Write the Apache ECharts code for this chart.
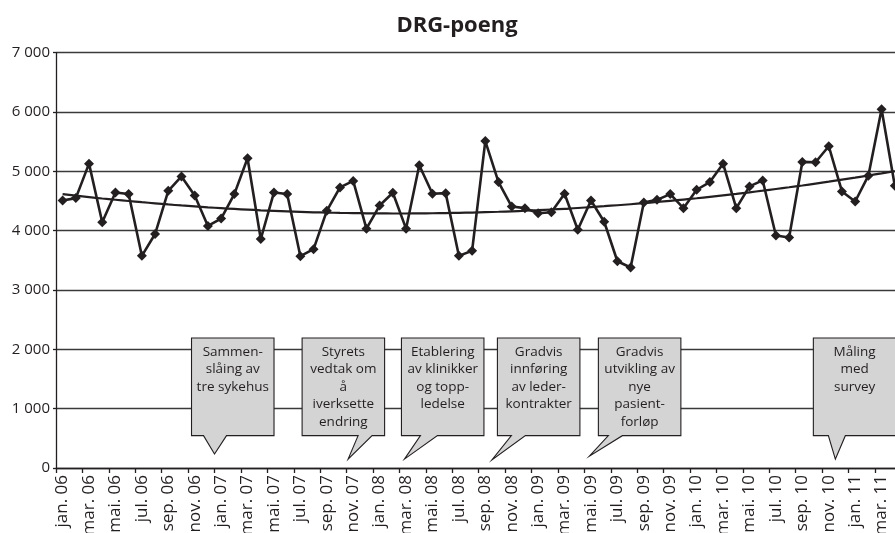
<!DOCTYPE html>
<html>
<head>
<meta charset="utf-8">
<script src="https://cdn.jsdelivr.net/npm/echarts@6/dist/echarts.min.js"></script>
<style>
  html, body { margin: 0; padding: 0; background: #fff; overflow: hidden; width: 895px; height: 533px; }
  #chart { width: 902px; height: 533px; }
</style>
</head>
<body>
<div id="chart"></div>
<script>
// Month labels (Norwegian) and years covered by the series
const monthNames = ['jan', 'feb', 'mar', 'apr', 'mai', 'jun', 'jul', 'aug', 'sep', 'okt', 'nov', 'des'];
const years = ['06', '07', '08', '09', '10', '11'];
const monthCount = 64; // jan. 06 – apr. 11

// Monthly DRG points
const drgValues = [
  4509, 4549, 5130, 4142, 4644, 4617, 3576, 3944, 4673, 4915,
  4593, 4080, 4205, 4617, 5220, 3859, 4644, 4617, 3570, 3688,
  4334, 4729, 4839, 4034, 4424, 4640, 4034, 5102, 4622, 4633,
  3576, 3661, 5510, 4820, 4407, 4380, 4295, 4312, 4622, 4017,
  4509, 4151, 3485, 3380, 4475, 4520, 4617, 4380, 4690, 4820,
  5130, 4380, 4746, 4847, 3920, 3886, 5159, 5153, 5424, 4661,
  4492, 4927, 6046, 4758
];

// Polynomial trend line
const trendValues = [
  4615, 4590, 4566, 4543, 4521, 4500, 4480, 4461, 4442, 4425,
  4410, 4394, 4380, 4367, 4355, 4344, 4334, 4325, 4317, 4310,
  4305, 4300, 4296, 4293, 4291, 4290, 4290, 4291, 4294, 4297,
  4301, 4306, 4312, 4319, 4327, 4336, 4346, 4357, 4369, 4382,
  4398, 4413, 4429, 4446, 4464, 4484, 4504, 4525, 4547, 4571,
  4595, 4620, 4647, 4674, 4703, 4732, 4762, 4794, 4826, 4860,
  4894, 4930, 4966, 5003
];

// Y axis ticks
const yTicks = [0, 1000, 2000, 3000, 4000, 5000, 6000, 7000];

// Events marked with callouts (month of the event and label lines)
const eventMonths = ['jan. 07', 'nov. 07', 'mar. 08', 'okt. 08', 'mai. 09', 'des. 10'];
const eventTexts = [
  ['Sammen-', 'slåing av', 'tre sykehus'],
  ['Styrets', 'vedtak om', 'å', 'iverksette', 'endring'],
  ['Etablering', 'av klinikker', 'og topp-', 'ledelse'],
  ['Gradvis', 'innføring', 'av leder-', 'kontrakter'],
  ['Gradvis', 'utvikling av', 'nye', 'pasient-', 'forløp'],
  ['Måling', 'med', 'survey']
];

const categories = [];
for (let i = 0; i < monthCount; i++) {
  categories.push(monthNames[i % 12] + '. ' + years[Math.floor(i / 12)]);
}

const INK = '#231f20';
const FONT = '"Open Sans", "Noto Sans", sans-serif';

const chart = echarts.init(document.getElementById('chart'), null, { renderer: 'canvas' });

chart.setOption({
  animation: false,
  backgroundColor: '#fff',
  grid: {
    left: 56, top: 52.7, right: 0.6, bottom: 65,
    containLabel: false, outerBoundsMode: 'none'
  },
  xAxis: {
    type: 'category',
    data: categories,
    boundaryGap: true,
    axisLine: { lineStyle: { color: INK, width: 1.3 } },
    axisTick: { show: true, interval: 1, length: 5, lineStyle: { color: INK, width: 1.3 } },
    axisLabel: {
      interval: 1, rotate: 90, margin: 7,
      fontFamily: FONT, fontSize: 17, color: INK
    },
    splitLine: { show: false }
  },
  yAxis: {
    type: 'value',
    min: yTicks[0],
    max: yTicks[yTicks.length - 1],
    interval: 1000,
    axisLine: { show: true, lineStyle: { color: INK, width: 1.3 } },
    axisTick: { show: true, length: 3, lineStyle: { color: INK, width: 1.3 } },
    axisLabel: {
      margin: 6, fontFamily: FONT, fontSize: 15, color: INK,
      formatter: v => String(v).replace(/\B(?=(\d{3})+(?!\d))/g, ' ')
    },
    splitLine: { show: true, lineStyle: { color: '#3a3a3a', width: 1.3 } }
  },
  series: [
    {
      name: 'DRG-poeng',
      type: 'line',
      data: drgValues,
      symbol: 'diamond',
      symbolSize: 10,
      showSymbol: true,
      showAllSymbol: true,
      itemStyle: { color: INK },
      lineStyle: { color: INK, width: 2.6 },
      z: 3
    },
    {
      name: 'Trend',
      type: 'line',
      data: trendValues,
      symbol: 'none',
      smooth: true,
      lineStyle: { color: INK, width: 2.2 },
      z: 2
    }
  ]
});

// Callout geometry, in pixels relative to the tip of each pointer
const calloutLayout = [
  { tipDx: 0,   tipValue: 235, boxDx: -23, base: [-11, 12] },
  { tipDx: 1.5, tipValue: 150, boxDx: -46, base: [10, 24] },
  { tipDx: 5,   tipValue: 150, boxDx: -3,  base: [16, 33] },
  { tipDx: 0,   tipValue: 135, boxDx: 5.5, base: [19.5, 33.5] },
  { tipDx: 5,   tipValue: 200, boxDx: 9,   base: [19, 33] },
  { tipDx: 0,   tipValue: 150, boxDx: -22, base: [-7, 10] }
];
const BOX_W = 82.5;
const boxTop = chart.convertToPixel({ yAxisIndex: 0 }, 2190);
const boxBottom = chart.convertToPixel({ yAxisIndex: 0 }, 545);
const step = chart.convertToPixel({ xAxisIndex: 0 }, 1) - chart.convertToPixel({ xAxisIndex: 0 }, 0);

const graphics = [{
  type: 'text',
  x: 457, y: 26,
  style: {
    text: 'DRG-poeng',
    font: 'bold 22px ' + FONT,
    fill: INK,
    textAlign: 'center',
    textVerticalAlign: 'middle'
  },
  z: 100
}];

eventMonths.forEach((m, k) => {
  const lay = calloutLayout[k];
  const idx = categories.indexOf(m);
  const tipX = chart.convertToPixel({ xAxisIndex: 0 }, idx) - step / 2 + lay.tipDx;
  const tipY = chart.convertToPixel({ yAxisIndex: 0 }, lay.tipValue);
  const left = tipX + lay.boxDx;
  const right = left + BOX_W;
  graphics.push({
    type: 'polygon',
    shape: {
      points: [
        [left, boxTop], [right, boxTop], [right, boxBottom],
        [tipX + lay.base[1], boxBottom], [tipX, tipY], [tipX + lay.base[0], boxBottom],
        [left, boxBottom]
      ]
    },
    style: { fill: '#d4d4d4', stroke: INK, lineWidth: 1.1 },
    z: 50
  });
  eventTexts[k].forEach((line, j) => {
    graphics.push({
      type: 'text',
      x: left + BOX_W / 2,
      y: boxTop + 14 + j * 17.4,
      style: {
        text: line,
        font: '13.5px ' + FONT,
        fill: INK,
        textAlign: 'center',
        textVerticalAlign: 'middle'
      },
      z: 51
    });
  });
});

chart.setOption({ graphic: graphics });
</script>
</body>
</html>
